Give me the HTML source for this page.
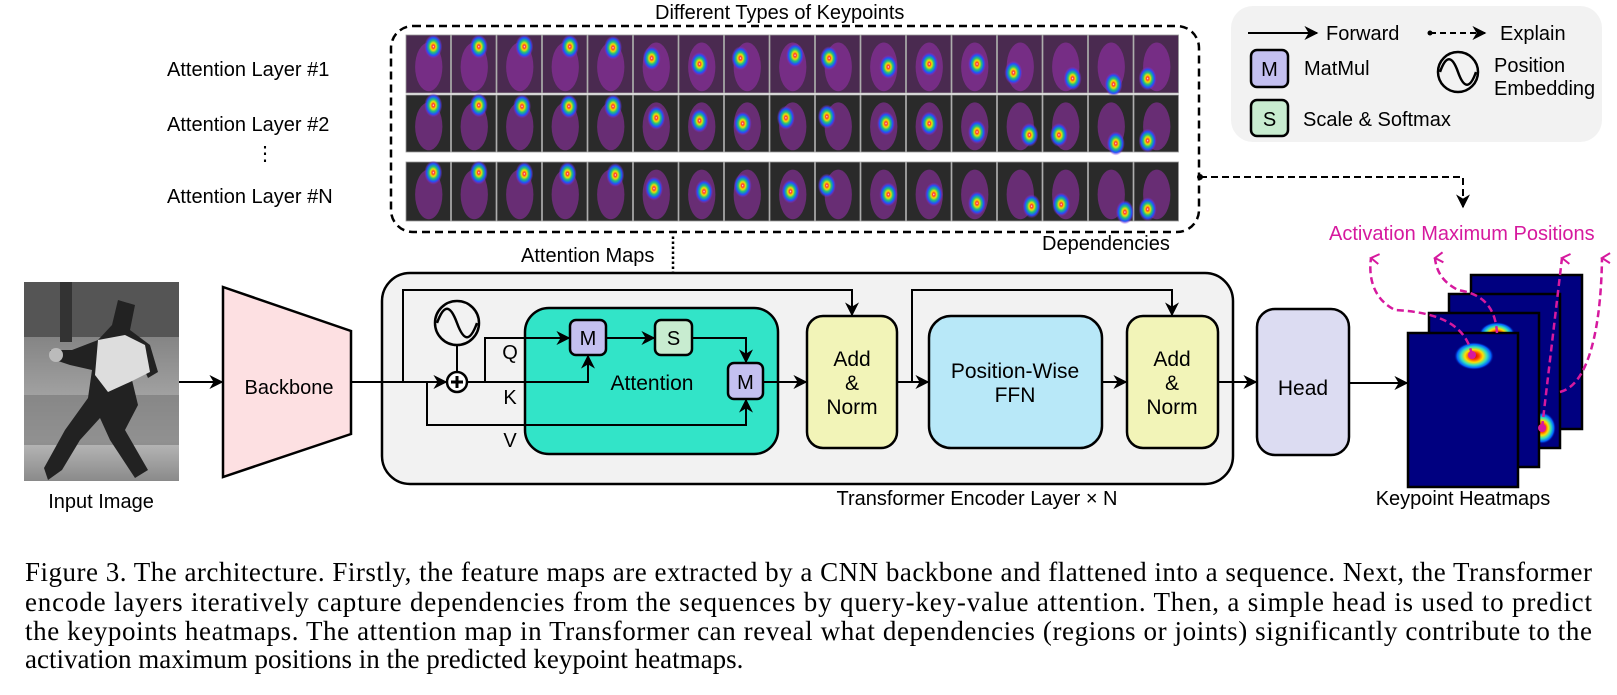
<!DOCTYPE html>
<html><head><meta charset="utf-8"><style>
html,body{margin:0;padding:0;background:#fff;}
svg{display:block;font-family:"Liberation Sans",Arial,sans-serif;}
.cap{font-family:"Liberation Serif","Times New Roman",serif;font-size:27px;}
</style></head><body>
<svg id="fig" width="1617" height="695" viewBox="0 0 1617 695" xmlns="http://www.w3.org/2000/svg">
<defs>
<marker id="ah" viewBox="0 0 10 10" refX="9" refY="5" markerWidth="7" markerHeight="7" orient="auto"><path d="M0,0 L10,5 L0,10 L3,5 z" fill="#000"/></marker>
<marker id="mh" viewBox="0 0 12 12" refX="6" refY="2" markerWidth="12" markerHeight="12" orient="auto-start-reverse" markerUnits="userSpaceOnUse"><path d="M1,10 L6,2 L11,10" fill="none" stroke="#d6199e" stroke-width="2"/></marker>
<radialGradient id="hot"><stop offset="0" stop-color="#c00000"/><stop offset="0.25" stop-color="#ff4000"/><stop offset="0.45" stop-color="#ffe000"/><stop offset="0.65" stop-color="#30e0c0"/><stop offset="0.85" stop-color="#0060ff"/><stop offset="1" stop-color="#000080" stop-opacity="0"/></radialGradient>
<radialGradient id="att"><stop offset="0" stop-color="#ffffff"/><stop offset="0.12" stop-color="#ff3030"/><stop offset="0.3" stop-color="#f0e000"/><stop offset="0.5" stop-color="#20c080"/><stop offset="0.75" stop-color="#2050ff"/><stop offset="1" stop-color="#a020c0" stop-opacity="0"/></radialGradient>
<linearGradient id="photo" x1="0" y1="0" x2="0" y2="1"><stop offset="0" stop-color="#6a6a6a"/><stop offset="0.5" stop-color="#9a9a9a"/><stop offset="0.8" stop-color="#b8b8b8"/><stop offset="1" stop-color="#8a8a8a"/></linearGradient>
</defs>

<text x="655" y="19" font-size="20">Different Types of Keypoints</text>
<text x="167" y="76" font-size="20">Attention Layer #1</text>
<text x="167" y="131" font-size="20">Attention Layer #2</text>
<text x="255" y="160" font-size="20">⋮</text>
<text x="167" y="203" font-size="20">Attention Layer #N</text>

<g id="tiles"></g>
<rect x="391" y="26" width="808" height="206" rx="22" fill="none" stroke="#000" stroke-width="2.5" stroke-dasharray="8,5"/>
<text x="521" y="262" font-size="20">Attention Maps</text>
<text x="1042" y="250" font-size="20">Dependencies</text>

<g>
<rect x="1231" y="6" width="371" height="136" rx="22" fill="#f2f2f2"/>
<line x1="1248" y1="33" x2="1317" y2="33" stroke="#000" stroke-width="2" marker-end="url(#ah)"/>
<text x="1326" y="40" font-size="20">Forward</text>
<circle cx="1430" cy="33" r="2.5"/>
<line x1="1430" y1="33" x2="1485" y2="33" stroke="#000" stroke-width="2" stroke-dasharray="6,4" marker-end="url(#ah)"/>
<text x="1500" y="40" font-size="20">Explain</text>
<rect x="1251" y="50" width="37" height="37" rx="6" fill="#c4c0f0" stroke="#000" stroke-width="2.5"/>
<text x="1269.5" y="76" font-size="20" text-anchor="middle">M</text>
<text x="1304" y="75" font-size="20">MatMul</text>
<rect x="1251" y="100" width="37" height="36" rx="6" fill="#c8ecd0" stroke="#000" stroke-width="2.5"/>
<text x="1269.5" y="126" font-size="20" text-anchor="middle">S</text>
<text x="1303" y="126" font-size="20">Scale &amp; Softmax</text>
<circle cx="1458" cy="72" r="20" fill="none" stroke="#000" stroke-width="2.5"/>
<path d="M1440,72 C1446,55 1452,55 1458,72 C1464,89 1470,89 1476,72" fill="none" stroke="#000" stroke-width="2.5"/>
<text x="1494" y="72" font-size="20">Position</text>
<text x="1494" y="95" font-size="20">Embedding</text>
</g>

<circle cx="1200" cy="177" r="3"/>
<path d="M1200,177 L1463,177 L1463,207" fill="none" stroke="#000" stroke-width="2" stroke-dasharray="7,4" marker-end="url(#ah)"/>
<text x="1329" y="240" font-size="20" fill="#d6199e">Activation Maximum Positions</text>
<line x1="673" y1="319" x2="673" y2="234" stroke="#000" stroke-width="2.5" stroke-dasharray="2.5,2.5"/>
<circle cx="673" cy="319" r="2.5"/>

<g>
<rect x="24" y="282" width="155" height="199" fill="url(#photo)"/>
<rect x="24" y="282" width="155" height="55" fill="#555"/>
<rect x="60" y="282" width="12" height="60" fill="#333"/>
<rect x="24" y="395" width="155" height="50" fill="#777" opacity="0.6"/>
<path d="M118,300 L135,305 L130,330 L150,345 L158,372 L148,378 L140,360 L132,380 L138,405 L125,430 L148,470 L135,478 L110,440 L100,418 L80,440 L62,470 L48,480 L44,468 L65,430 L88,398 L92,370 L70,365 L55,360 L50,350 L72,350 L98,340 L112,325 z" fill="#222"/>
<path d="M98,340 L125,335 L145,345 L150,372 L130,382 L108,392 L95,375 z" fill="#ddd"/>
<circle cx="56" cy="355" r="7" fill="#bbb"/>
</g>
<text x="101" y="508" font-size="20" text-anchor="middle">Input Image</text>
<line x1="179" y1="382" x2="222" y2="382" stroke="#000" stroke-width="2" marker-end="url(#ah)"/>

<polygon points="223,287 351,331 351,434 223,477" fill="#fde0e2" stroke="#000" stroke-width="2.5"/>
<text x="289" y="394" font-size="20" text-anchor="middle">Backbone</text>

<rect x="382" y="273" width="851" height="211" rx="28" fill="#f2f2f2" stroke="#000" stroke-width="2.5"/>
<line x1="351" y1="382" x2="446" y2="382" stroke="#000" stroke-width="2" marker-end="url(#ah)"/>
<path d="M403,382 L403,290 L852,290 L852,315" fill="none" stroke="#000" stroke-width="2" marker-end="url(#ah)"/>
<rect x="525" y="308" width="253" height="146" rx="24" fill="#32e4c8" stroke="#000" stroke-width="2.5"/>
<text x="652" y="390" font-size="21" text-anchor="middle">Attention</text>
<circle cx="457" cy="323" r="22" fill="none" stroke="#000" stroke-width="2.5"/>
<path d="M437,323 C444,304 450,304 457,323 C464,342 470,342 477,323" fill="none" stroke="#000" stroke-width="2.5"/>
<line x1="457" y1="345" x2="457" y2="372" stroke="#000" stroke-width="2"/>
<circle cx="457" cy="382" r="10" fill="#fff" stroke="#000" stroke-width="2.5"/>
<path d="M451,382 H463 M457,376 V388" stroke="#000" stroke-width="3"/>
<path d="M485,382 L485,338 L569,338" fill="none" stroke="#000" stroke-width="2" marker-end="url(#ah)"/>
<path d="M467,382 L588,382 L588,356" fill="none" stroke="#000" stroke-width="2" marker-end="url(#ah)"/>
<path d="M427,382 L427,425 L746,425 L746,400" fill="none" stroke="#000" stroke-width="2" marker-end="url(#ah)"/>
<line x1="606" y1="338" x2="654" y2="338" stroke="#000" stroke-width="2" marker-end="url(#ah)"/>
<path d="M692,338 L746,338 L746,362" fill="none" stroke="#000" stroke-width="2" marker-end="url(#ah)"/>
<text x="510" y="359" font-size="20" text-anchor="middle">Q</text>
<text x="510" y="404" font-size="20" text-anchor="middle">K</text>
<text x="510" y="447" font-size="20" text-anchor="middle">V</text>
<rect x="570" y="320" width="36" height="35" rx="6" fill="#c4c0f0" stroke="#000" stroke-width="2.5"/>
<text x="588" y="345" font-size="20" text-anchor="middle">M</text>
<rect x="655" y="320" width="37" height="35" rx="6" fill="#c8ecd0" stroke="#000" stroke-width="2.5"/>
<text x="673.5" y="345" font-size="20" text-anchor="middle">S</text>
<rect x="728" y="363" width="35" height="36" rx="6" fill="#c4c0f0" stroke="#000" stroke-width="2.5"/>
<text x="745.5" y="389" font-size="20" text-anchor="middle">M</text>
<line x1="763" y1="382" x2="806" y2="382" stroke="#000" stroke-width="2" marker-end="url(#ah)"/>

<rect x="807" y="316" width="90" height="132" rx="16" fill="#f2f4b8" stroke="#000" stroke-width="2.5"/>
<text x="852" y="366" font-size="21" text-anchor="middle">Add</text>
<text x="852" y="390" font-size="21" text-anchor="middle">&amp;</text>
<text x="852" y="414" font-size="21" text-anchor="middle">Norm</text>
<line x1="897" y1="382" x2="928" y2="382" stroke="#000" stroke-width="2" marker-end="url(#ah)"/>
<path d="M912,382 L912,290 L1172,290 L1172,315" fill="none" stroke="#000" stroke-width="2" marker-end="url(#ah)"/>
<rect x="929" y="316" width="173" height="132" rx="22" fill="#b8e8f8" stroke="#000" stroke-width="2.5"/>
<text x="1015" y="378" font-size="21" text-anchor="middle">Position-Wise</text>
<text x="1015" y="402" font-size="21" text-anchor="middle">FFN</text>
<line x1="1102" y1="382" x2="1126" y2="382" stroke="#000" stroke-width="2" marker-end="url(#ah)"/>
<rect x="1127" y="316" width="91" height="132" rx="16" fill="#f2f4b8" stroke="#000" stroke-width="2.5"/>
<text x="1172" y="366" font-size="21" text-anchor="middle">Add</text>
<text x="1172" y="390" font-size="21" text-anchor="middle">&amp;</text>
<text x="1172" y="414" font-size="21" text-anchor="middle">Norm</text>
<line x1="1218" y1="382" x2="1256" y2="382" stroke="#000" stroke-width="2" marker-end="url(#ah)"/>
<text x="977" y="505" font-size="20" text-anchor="middle">Transformer Encoder Layer × N</text>

<rect x="1257" y="309" width="92" height="146" rx="18" fill="#dcdcf2" stroke="#000" stroke-width="2.5"/>
<text x="1303" y="395" font-size="21" text-anchor="middle">Head</text>
<line x1="1349" y1="383" x2="1407" y2="383" stroke="#000" stroke-width="2" marker-end="url(#ah)"/>

<g>
<rect x="1471" y="275" width="111" height="154" fill="#000080" stroke="#000" stroke-width="2.5"/>
<rect x="1449" y="294" width="111" height="154" fill="#000080" stroke="#000" stroke-width="2.5"/>
<ellipse cx="1542" cy="428" rx="14" ry="16" fill="url(#hot)"/>
<rect x="1429" y="313" width="110" height="154" fill="#000080" stroke="#000" stroke-width="2.5"/>
<ellipse cx="1497" cy="334" rx="18" ry="12" fill="url(#hot)"/>
<rect x="1408" y="333" width="110" height="154" fill="#000080" stroke="#000" stroke-width="2.5"/>
<ellipse cx="1474" cy="356" rx="20" ry="14" fill="url(#hot)"/>
</g>
<text x="1463" y="505" font-size="20" text-anchor="middle">Keypoint Heatmaps</text>
<g fill="none" stroke="#d6199e" stroke-width="2.5" stroke-dasharray="7,4">
<path d="M1472,355 C1465,320 1430,312 1395,310 C1375,300 1368,280 1371,258" marker-end="url(#mh)"/>
<path d="M1497,333 C1495,300 1475,293 1458,290 C1442,282 1436,270 1435,258" marker-end="url(#mh)"/>
<path d="M1542,428 L1562,258" marker-end="url(#mh)"/>
<path d="M1560,392 C1588,385 1601,330 1602,258" marker-end="url(#mh)"/>
</g>
<g fill="#d6199e"><circle cx="1472" cy="355" r="4"/><circle cx="1542" cy="428" r="4"/></g>

<g class="cap">
<text x="25" y="581" textLength="1567" lengthAdjust="spacing">Figure 3. The architecture. Firstly, the feature maps are extracted by a CNN backbone and flattened into a sequence. Next, the Transformer</text>
<text x="25" y="611" textLength="1567" lengthAdjust="spacing">encode layers iteratively capture dependencies from the sequences by query-key-value attention. Then, a simple head is used to predict</text>
<text x="25" y="640" textLength="1567" lengthAdjust="spacing">the keypoints heatmaps. The attention map in Transformer can reveal what dependencies (regions or joints) significantly contribute to the</text>
<text x="25" y="668">activation maximum positions in the predicted keypoint heatmaps.</text>
</g>
</svg>
<script>
// attention peak positions (fraction of tile) for each keypoint, per layer
const row1X=[0.6,0.6,0.6,0.6,0.55,0.4,0.45,0.35,0.55,0.3,0.6,0.5,0.55,0.35,0.65,0.55,0.3];
const row1Y=[0.2,0.2,0.2,0.2,0.22,0.4,0.5,0.4,0.35,0.4,0.55,0.5,0.5,0.65,0.75,0.85,0.75];
const row2X=[0.6,0.6,0.55,0.58,0.55,0.5,0.45,0.4,0.35,0.25,0.55,0.5,0.55,0.7,0.35,0.6,0.3];
const row2Y=[0.18,0.18,0.2,0.2,0.2,0.4,0.45,0.5,0.4,0.38,0.5,0.5,0.65,0.7,0.7,0.85,0.8];
const row3X=[0.6,0.6,0.6,0.55,0.6,0.45,0.55,0.4,0.45,0.25,0.6,0.6,0.55,0.75,0.4,0.8,0.3];
const row3Y=[0.18,0.18,0.2,0.2,0.22,0.45,0.5,0.4,0.5,0.4,0.55,0.55,0.7,0.75,0.72,0.85,0.8];
const rowsX=[row1X,row2X,row3X], rowsY=[row1Y,row2Y,row3Y];
const NS="http://www.w3.org/2000/svg";
const g=document.getElementById('tiles');
const tileX0=406, tileW=45.5, rowTop=[35,95,162], rowH=[58,57,59];
for(let r=0;r<3;r++){
  for(let c=0;c<rowsX[r].length;c++){
    const x=tileX0+c*tileW, y=rowTop[r], h=rowH[r];
    const t=document.createElementNS(NS,'g');
    
    
    const bg=document.createElementNS(NS,'rect');
    bg.setAttribute('x',x);bg.setAttribute('y',y);bg.setAttribute('width',tileW-1);bg.setAttribute('height',h);
    bg.setAttribute('fill',r==0?'#4a2a50':'#2a2a2a');bg.setAttribute('stroke','#999');bg.setAttribute('stroke-width','0.8');
    t.appendChild(bg);
    const body=document.createElementNS(NS,'ellipse');
    body.setAttribute('cx',x+tileW*0.5);body.setAttribute('cy',y+h*0.55);body.setAttribute('rx',tileW*0.3);body.setAttribute('ry',h*0.42);
    body.setAttribute('fill','#9a30b0');body.setAttribute('opacity','0.55');
    t.appendChild(body);
    const b=document.createElementNS(NS,'ellipse');
    b.setAttribute('cx',x+tileW*rowsX[r][c]);b.setAttribute('cy',y+h*rowsY[r][c]);b.setAttribute('rx',9);b.setAttribute('ry',12);
    b.setAttribute('fill','url(#att)');
    t.appendChild(b);
    g.appendChild(t);
  }
}
</script>
</body></html>
